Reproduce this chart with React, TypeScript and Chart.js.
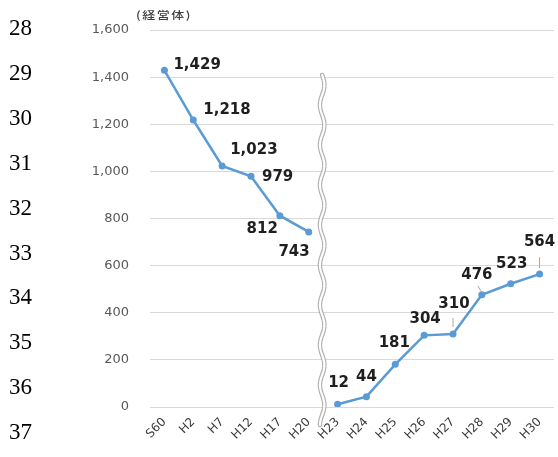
import React, { useEffect, useRef } from "react";
import { Chart, registerables } from "chart.js";

Chart.register(...registerables);

// ---- data ----
const categories = ["S60", "H2", "H7", "H12", "H17", "H20", "H23", "H24", "H25", "H26", "H27", "H28", "H29", "H30"];
const beforeValues = [1429, 1218, 1023, 979, 812, 743];
const afterValues = [12, 44, 181, 304, 310, 476, 523, 564];
const yTickValues = [0, 200, 400, 600, 800, 1000, 1200, 1400, 1600];
const lineNumbers = [28, 29, 30, 31, 32, 33, 34, 35, 36, 37];
const unitLabel = "(経営体)";

const series1 = categories.map((_, i) => (i < beforeValues.length ? beforeValues[i] : null));
const series2 = categories.map((_, i) => (i >= beforeValues.length ? afterValues[i - beforeValues.length] : null));

// ---- label placement (style) ----
type Place = { align: CanvasTextAlign; dx: number; dy: number; leader?: [number, number, number, number] };
const labelPlacement: Place[] = [
  { align: "left", dx: 9, dy: -5 },
  { align: "left", dx: 10, dy: -10 },
  { align: "left", dx: 8, dy: -16 },
  { align: "left", dx: 11, dy: 1 },
  { align: "right", dx: -2, dy: 13 },
  { align: "right", dx: 1, dy: 20 },
  { align: "center", dx: 1, dy: -21 },
  { align: "center", dx: 0, dy: -20 },
  { align: "center", dx: -1, dy: -21 },
  { align: "center", dx: 1, dy: -16 },
  { align: "center", dx: 1, dy: -30, leader: [0, -16, 0, -7] },
  { align: "center", dx: -5, dy: -20, leader: [-4, -9, -1, -4] },
  { align: "center", dx: 1, dy: -20 },
  { align: "center", dx: 0, dy: -32, leader: [0, -17, 0, -6] },
];

const fmt = (v: number) => v.toLocaleString("en-US");

const labelPlugin = {
  id: "pointLabels",
  afterDatasetsDraw(chart: any) {
    const ctx = chart.ctx;
    ctx.save();
    ctx.font = "bold 15px 'DejaVu Sans'";
    ctx.fillStyle = "#1f1f1f";
    ctx.textBaseline = "middle";
    chart.data.datasets.forEach((ds: any, di: number) => {
      const meta = chart.getDatasetMeta(di);
      meta.data.forEach((pt: any, i: number) => {
        const v = ds.data[i];
        if (v === null || v === undefined) return;
        const p = labelPlacement[i];
        ctx.textAlign = p.align;
        ctx.fillText(fmt(v), pt.x + p.dx, pt.y + p.dy);
        if (p.leader) {
          ctx.save();
          ctx.strokeStyle = "#a6a6a6";
          ctx.lineWidth = 1;
          ctx.beginPath();
          ctx.moveTo(pt.x + p.leader[0], pt.y + p.leader[1]);
          ctx.lineTo(pt.x + p.leader[2], pt.y + p.leader[3]);
          ctx.stroke();
          ctx.restore();
        }
      });
    });
    ctx.restore();
  },
};

const breakPlugin = {
  id: "axisBreak",
  afterDatasetsDraw(chart: any) {
    const ctx = chart.ctx;
    const xs = chart.scales.x;
    const x0 = (xs.getPixelForValue(beforeValues.length - 1) + xs.getPixelForValue(beforeValues.length)) / 2 - 1;
    const top = chart.chartArea.top + 45;
    const bottom = chart.chartArea.bottom + 18;
    const path = () => {
      ctx.beginPath();
      for (let y = top; y <= bottom; y += 1) {
        const x = x0 + 2.2 * Math.sin(((y - top) / 40) * Math.PI * 2);
        if (y === top) ctx.moveTo(x, y);
        else ctx.lineTo(x, y);
      }
    };
    ctx.save();
    ctx.lineCap = "round";
    path();
    ctx.strokeStyle = "#b0b0b0";
    ctx.lineWidth = 4.5;
    ctx.stroke();
    path();
    ctx.strokeStyle = "#ffffff";
    ctx.lineWidth = 2.2;
    ctx.stroke();
    ctx.restore();
  },
};

export default function App() {
  const ref = useRef<HTMLCanvasElement | null>(null);

  useEffect(() => {
    if (!ref.current) return;
    const lineColor = "#5b9bd5";
    const common = {
      borderColor: lineColor,
      backgroundColor: lineColor,
      borderWidth: 2.5,
      pointRadius: 3.5,
      pointHoverRadius: 3.5,
      pointBackgroundColor: lineColor,
      pointBorderWidth: 0,
      spanGaps: false,
      tension: 0,
    };
    const chart = new Chart(ref.current, {
      type: "line",
      data: {
        labels: categories,
        datasets: [
          { ...common, label: "a", data: series1 },
          { ...common, label: "b", data: series2 },
        ],
      },
      options: {
        animation: false,
        responsive: false,
        events: [],
        layout: { padding: { left: 0, top: 30, right: 4, bottom: 0 } },
        plugins: { legend: { display: false }, tooltip: { enabled: false } },
        scales: {
          x: {
            offset: true,
            grid: { display: false, drawTicks: false },
            border: { display: false },
            ticks: {
              autoSkip: false,
              minRotation: 45,
              maxRotation: 45,
              padding: 8,
              color: "#3a3a3a",
              font: { family: "'DejaVu Sans'", size: 12 },
            },
            afterFit: (s: any) => {
              s.height = 50;
            },
          },
          y: {
            min: 0,
            max: 1600,
            afterBuildTicks: (s: any) => {
              s.ticks = yTickValues.map((v) => ({ value: v }));
            },
            grid: { color: "#d9d9d9", lineWidth: 1, drawTicks: false },
            border: { display: false },
            ticks: {
              padding: 21,
              color: "#595959",
              font: { family: "'DejaVu Sans'", size: 13 },
              callback: (v: any) => fmt(Number(v)),
            },
            afterFit: (s: any) => {
              s.width = 150;
            },
          },
        },
      },
      plugins: [breakPlugin, labelPlugin],
    });
    return () => chart.destroy();
  }, []);

  return (
    <div style={{ position: "fixed", left: 0, top: 0, width: 558, height: 457, background: "#fff", overflow: "hidden" }}>
      <canvas ref={ref} width={558} height={457} style={{ position: "absolute", left: 0, top: 0 }} />
      {lineNumbers.map((n, i) => (
        <div
          key={n}
          style={{
            position: "absolute",
            left: 9,
            top: 28 + i * 44.9 - 13,
            height: 26,
            lineHeight: "26px",
            fontFamily: '"Liberation Serif", serif',
            fontSize: 23,
            color: "#000",
          }}
        >
          {n}
        </div>
      ))}
      <div
        style={{
          position: "absolute",
          left: 136,
          top: 7,
          lineHeight: "16px",
          fontFamily: '"Noto Sans CJK JP", sans-serif',
          fontSize: 13,
          fontWeight: 500,
          letterSpacing: 1.5,
          color: "#404040",
          transform: "scaleY(0.8)",
          transformOrigin: "left center",
        }}
      >
        {unitLabel}
      </div>
    </div>
  );
}
